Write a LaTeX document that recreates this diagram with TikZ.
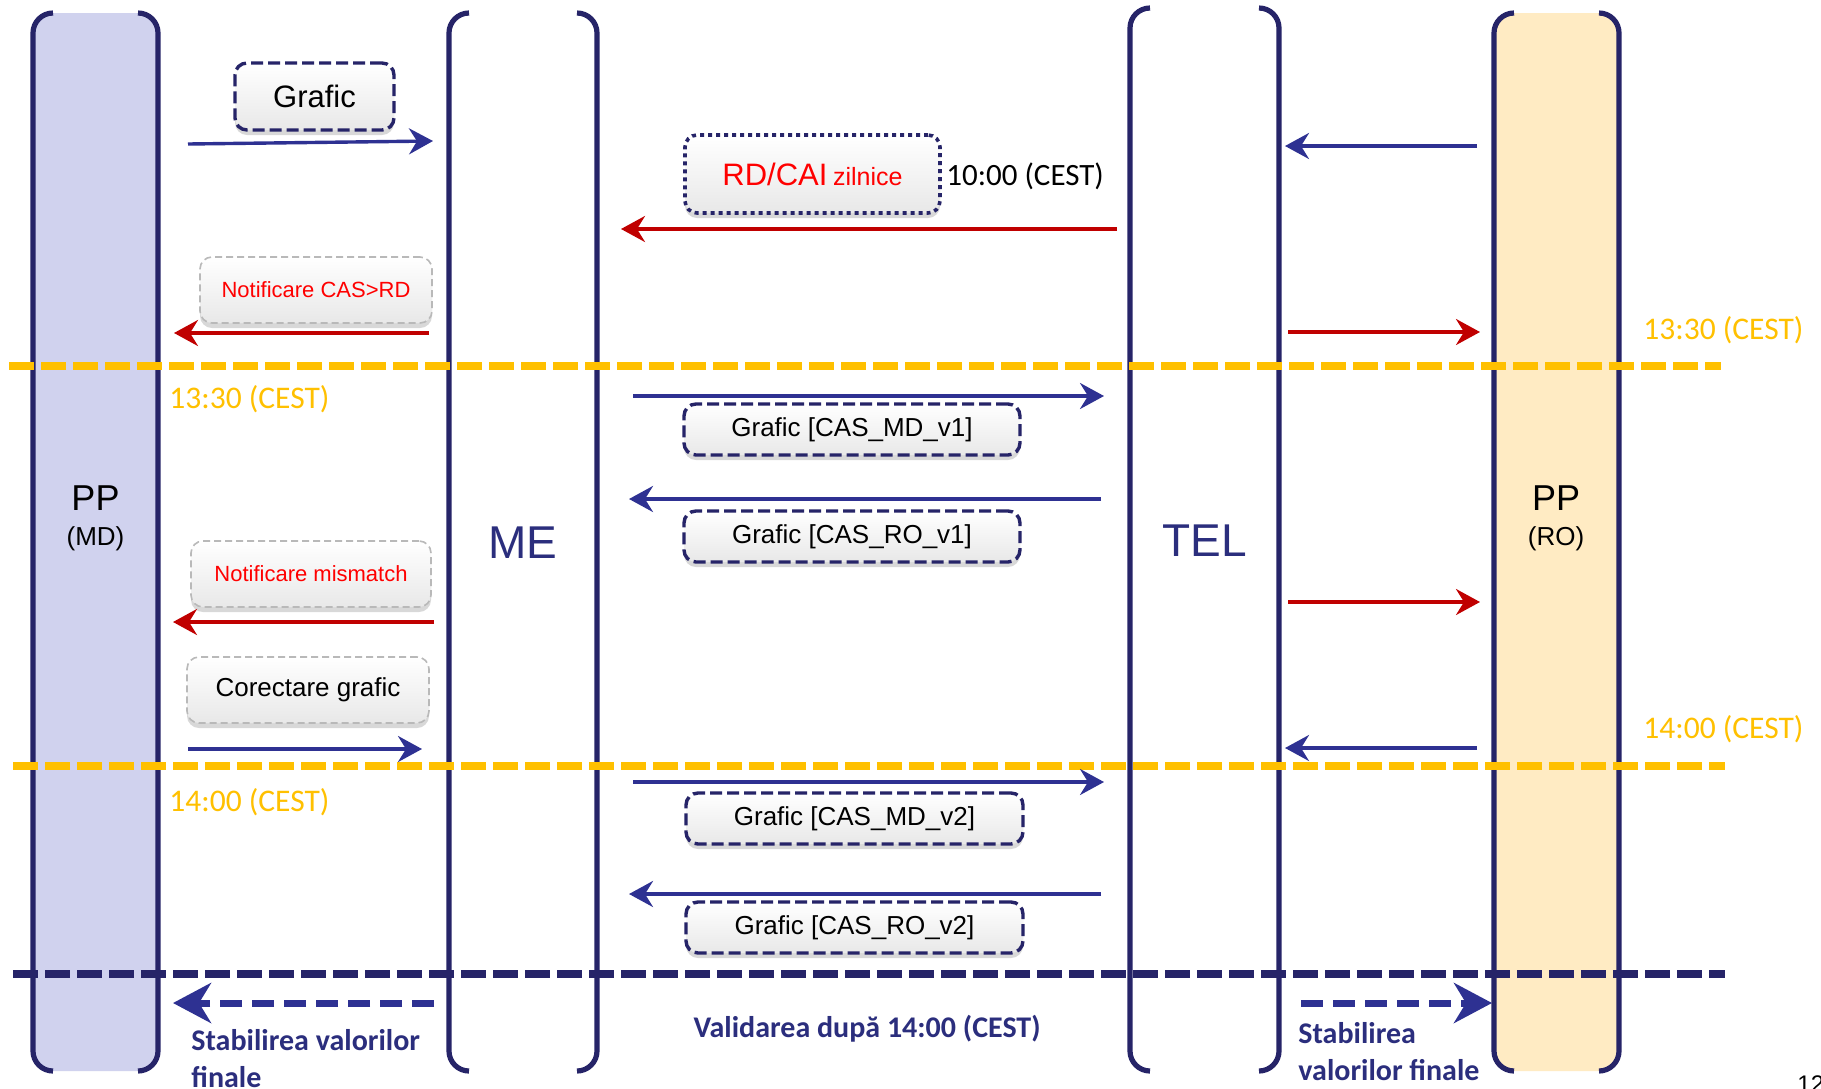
\documentclass[tikz,border=0pt]{standalone}
\usepackage{fontspec}
\setmainfont{Liberation Sans}
\newfontfamily\calfont{Carlito}
\usetikzlibrary{arrows.meta,shadows}
\definecolor{navy}{RGB}{38,36,104}
\definecolor{arrblue}{RGB}{46,49,146}
\definecolor{arrred}{RGB}{192,0,0}
\definecolor{txtred}{RGB}{255,0,0}
\definecolor{ambar}{RGB}{255,192,0}
\definecolor{lav}{RGB}{208,210,238}
\definecolor{peach}{RGB}{255,235,195}
\definecolor{lblnavy}{RGB}{43,46,125}
\newcommand{\fsz}[1]{\fontsize{#1pt}{#1pt}\selectfont}
\begin{document}
\begin{tikzpicture}[x=0.5pt,y=-0.5pt,
  colline/.style={draw=navy,line width=2.6pt},
  msg/.style={-{Stealth[length=12pt,width=13pt,inset=4pt]},line width=1.7pt},
  bluemsg/.style={msg,draw=arrblue,color=arrblue},
  redmsg/.style={msg,draw=arrred,color=arrred},
  bigmsg/.style={-{Stealth[length=19pt,width=20pt,inset=6pt]},draw=arrblue,color=arrblue,line width=3.5pt,dash pattern=on 11pt off 5pt},
  hsep/.style={line width=4pt,dash pattern=on 12.25pt off 3.75pt},
  card/.style={rounded corners=6pt,top color=white,bottom color=gray!18,
    drop shadow={shadow xshift=0pt,shadow yshift=-2.5pt,opacity=0.3},inner sep=0pt,align=center},
  navycard/.style={card,draw=navy,line width=1.7pt,dash pattern=on 6pt off 2.5pt,font=\fsz{13}},
  dotcard/.style={card,draw=navy,line width=1.8pt,dash pattern=on 2pt off 2pt},
  graycard/.style={card,draw=gray!55,line width=0.8pt,dash pattern=on 3.5pt off 2pt},
  ylbl/.style={anchor=west,inner sep=0pt,text=ambar,font=\calfont\fsz{15.75}},
  stab/.style={anchor=base west,inner sep=0pt,text=lblnavy,font=\calfont\bfseries\fsz{15}},
  collbl/.style={inner sep=0pt,text=lblnavy,font=\fsz{23}}
]
\useasboundingbox (0,0) rectangle (1821,1088);
\fill[white] (0,0) rectangle (1821,1088);

% columns
\fill[lav,rounded corners=10pt] (33,13) rectangle (158,1071);
\draw[colline,rounded corners=10pt] (53,13) -- (33,13) -- (33,1071) -- (53,1071);
\draw[colline,rounded corners=10pt] (138,13) -- (158,13) -- (158,1071) -- (138,1071);

\draw[colline,rounded corners=10pt] (469,13) -- (449,13) -- (449,1071) -- (469,1071);
\draw[colline,rounded corners=10pt] (577,13) -- (597,13) -- (597,1071) -- (577,1071);

\draw[colline,rounded corners=10pt] (1150,8) -- (1130,8) -- (1130,1071) -- (1150,1071);
\draw[colline,rounded corners=10pt] (1259,8) -- (1279,8) -- (1279,1071) -- (1259,1071);

\fill[peach,rounded corners=10pt] (1494,13) rectangle (1619,1071);
\draw[colline,rounded corners=10pt] (1514,13) -- (1494,13) -- (1494,1071) -- (1514,1071);
\draw[colline,rounded corners=10pt] (1599,13) -- (1619,13) -- (1619,1071) -- (1599,1071);

% column labels
\node[inner sep=0pt,font=\fsz{18}] (ppmd) at (95.5,498) {PP};
\node[inner sep=0pt,font=\fsz{13}] (ppmdsub) at (95.5,539) {(MD)};
\node[collbl] (me) at (523,543) {ME};
\node[collbl] (tel) at (1205,541) {TEL};
\node[inner sep=0pt,font=\fsz{18}] (ppro) at (1556,498) {PP};
\node[inner sep=0pt,font=\fsz{13}] (pprosub) at (1556,539) {(RO)};

% separators
\draw[hsep,draw=ambar] (9,366) -- (1721,366);
\draw[hsep,draw=ambar] (13,766) -- (1725,766);
\draw[hsep,draw=navy] (13,974) -- (1725,974);

% time labels
\node[ylbl] (t1330l) at (169,399) {13:30 (CEST)};
\node[ylbl] (t1330r) at (1643,330) {13:30 (CEST)};
\node[ylbl] (t1400l) at (169,802) {14:00 (CEST)};
\node[ylbl] (t1400r) at (1643,729) {14:00 (CEST)};
\node[anchor=west,inner sep=0pt,font=\calfont\fsz{15.5}] (t1000) at (946,176) {10:00 (CEST)};

% cards
\node[navycard,font=\fsz{15.5},minimum width=79.5pt,minimum height=33.5pt] (grafic) at (314.5,96.5) {Grafic};
\node[dotcard,minimum width=127.5pt,minimum height=39pt,text=txtred] (rdcai) at (812.5,174) {{\fsz{15.5}RD/CAI} {\fsz{12.5}zilnice}};
\node[graycard,minimum width=116pt,minimum height=33pt,text=txtred,font=\fsz{11}] (notif1) at (316,290) {Notificare CAS>RD};
\node[navycard,minimum width=168pt,minimum height=25.5pt] (mdv1) at (852,429.5) {Grafic [CAS\_MD\_v1]};
\node[navycard,minimum width=168pt,minimum height=25.5pt] (rov1) at (852,536.5) {Grafic [CAS\_RO\_v1]};
\node[graycard,minimum width=120pt,minimum height=33pt,text=txtred,font=\fsz{11}] (notif2) at (311,574) {Notificare mismatch};
\node[graycard,minimum width=121pt,minimum height=33pt,font=\fsz{13}] (corect) at (308,690) {Corectare grafic};
\node[navycard,minimum width=168.5pt,minimum height=25.5pt] (mdv2) at (854.5,818.5) {Grafic [CAS\_MD\_v2]};
\node[navycard,minimum width=168.5pt,minimum height=25.5pt] (rov2) at (854.5,927.5) {Grafic [CAS\_RO\_v2]};

% arrow end points
\coordinate (a1s) at (188,144);  \coordinate (a1e) at (433,141);
\coordinate (a2s) at (1117,229); \coordinate (a2e) at (621,229);
\coordinate (a3s) at (429,333);  \coordinate (a3e) at (174,333);
\coordinate (a4s) at (1477,146); \coordinate (a4e) at (1285,146);
\coordinate (a5s) at (1288,332); \coordinate (a5e) at (1480,332);
\coordinate (a6s) at (633,396);  \coordinate (a6e) at (1104,396);
\coordinate (a7s) at (1101,499); \coordinate (a7e) at (629,499);
\coordinate (a8s) at (1288,602); \coordinate (a8e) at (1480,602);
\coordinate (a9s) at (434,622);  \coordinate (a9e) at (173,622);
\coordinate (a10s) at (188,749); \coordinate (a10e) at (422,749);
\coordinate (a11s) at (1477,748); \coordinate (a11e) at (1285,748);
\coordinate (a12s) at (633,782); \coordinate (a12e) at (1104,782);
\coordinate (a13s) at (1101,894); \coordinate (a13e) at (629,894);
\coordinate (a14s) at (434,1003); \coordinate (a14e) at (173,1003);
\coordinate (a15s) at (1301,1003); \coordinate (a15e) at (1492,1003);

\draw[bluemsg] (a1s) -- (a1e);
\draw[redmsg] (a2s) -- (a2e);
\draw[redmsg] (a3s) -- (a3e);
\draw[bluemsg] (a4s) -- (a4e);
\draw[redmsg] (a5s) -- (a5e);
\draw[bluemsg] (a6s) -- (a6e);
\draw[bluemsg] (a7s) -- (a7e);
\draw[redmsg] (a8s) -- (a8e);
\draw[redmsg] (a9s) -- (a9e);
\draw[bluemsg] (a10s) -- (a10e);
\draw[bluemsg] (a11s) -- (a11e);
\draw[bluemsg] (a12s) -- (a12e);
\draw[bluemsg] (a13s) -- (a13e);
\draw[bigmsg] (a14s) -- (a14e);
\draw[bigmsg] (a15s) -- (a15e);

% bottom labels
\node[stab] (stabl1) at (191,1050) {Stabilirea valorilor};
\node[stab] (stabl2) at (191,1087) {finale};
\node[stab] (stabr1) at (1298,1043) {Stabilirea};
\node[stab] (stabr2) at (1298,1080) {valorilor finale};
\node[stab,anchor=base] (valid) at (867,1037) {Validarea după 14:00 (CEST)};
\node[anchor=north west,inner sep=0pt,font=\fsz{12}] (pagenum) at (1797,1075) {12};
\end{tikzpicture}
\end{document}
